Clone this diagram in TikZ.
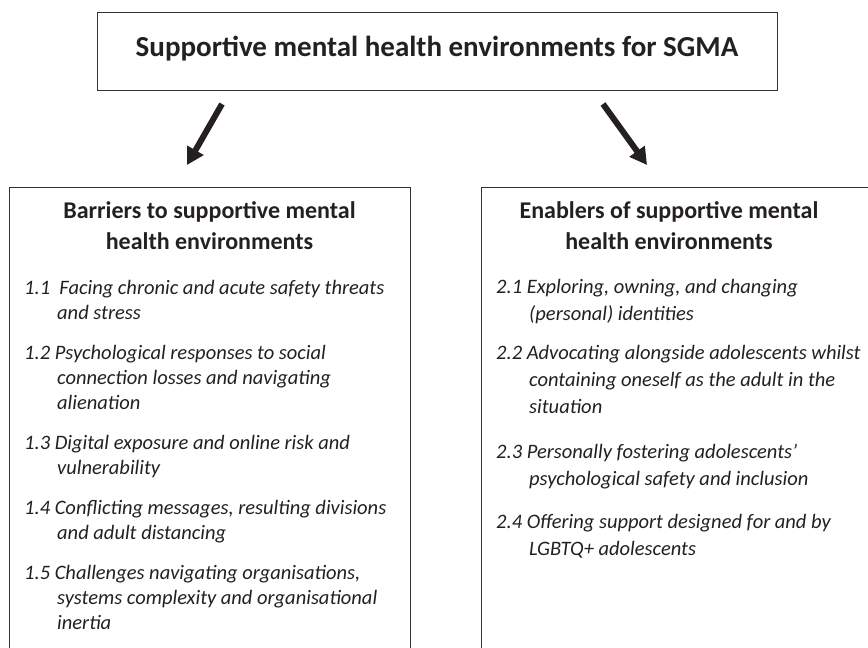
\documentclass[tikz,border=0pt]{standalone}
\usepackage{fontspec}
\setmainfont{Carlito}
\usetikzlibrary{arrows.meta}
\definecolor{ink}{rgb}{0.14,0.12,0.13}
\tikzset{
  frame/.style={draw=black!80, line width=1.2pt, inner sep=0pt, anchor=north west},
  titletext/.style={font=\fontsize{29}{34}\selectfont\bfseries, text=ink, inner sep=0pt, anchor=base},
  headtext/.style={font=\fontsize{24}{31}\selectfont\bfseries, text=ink, inner sep=0pt, anchor=north, align=center},
  lefitem/.style={font=\fontsize{20.5}{25}\selectfont\itshape, text=ink, inner sep=0pt, anchor=north west, align=left},
  rigitem/.style={font=\fontsize{20.5}{27}\selectfont\itshape, text=ink, inner sep=0pt, anchor=north west, align=left},
  bigarrow/.style={line width=6pt, -{Triangle[length=17pt,width=18pt]}, ink}
}
\begin{document}
\begin{tikzpicture}[x=1pt,y=-1pt]
\useasboundingbox (0,0) rectangle (868,648);
% boxes
\node[frame, minimum width=680pt, minimum height=78pt] (top) at (97,12) {};
\node[frame, minimum width=401pt, minimum height=480pt] (left) at (9,187) {};
\node[frame, minimum width=400pt, minimum height=480pt] (right) at (481,187) {};
% title
\node[titletext] (title) at (437,56) {Supportive mental health environments for SGMA};
% arrows
\coordinate (la0) at (222,104);
\coordinate (la1) at (187,165);
\coordinate (ra0) at (603,104);
\coordinate (ra1) at (647,165);
\draw[bigarrow] (la0) -- (la1);
\draw[bigarrow] (ra0) -- (ra1);
% headings
\node[headtext] (lh) at (209.5,197) {\strut Barriers to supportive mental\\health environments};
\node[headtext] (rh) at (669,197) {\strut Enablers of supportive mental\\health environments};
% left items
\node[lefitem] (i11) at (24,276.5) {\strut 1.1\hspace{0.45em}Facing chronic and acute safety threats\\\hspace*{33pt}and stress};
\node[lefitem] (i12) at (24,341.5) {\strut 1.2 Psychological responses to social\\\hspace*{33pt}connection losses and navigating\\\hspace*{33pt}alienation};
\node[lefitem] (i13) at (24,431.5) {\strut 1.3 Digital exposure and online risk and\\\hspace*{33pt}vulnerability};
\node[lefitem] (i14) at (24,496.5) {\strut 1.4 Conflicting messages, resulting divisions\\\hspace*{33pt}and adult distancing};
\node[lefitem] (i15) at (24,561.5) {\strut 1.5 Challenges navigating organisations,\\\hspace*{33pt}systems complexity and organisational\\\hspace*{33pt}inertia};
% right items
\node[rigitem] (i21) at (496,274.1) {\strut 2.1 Exploring, owning, and changing\\\hspace*{33pt}(personal) identities};
\node[rigitem] (i22) at (496,340.1) {\strut 2.2 Advocating alongside adolescents whilst\\\hspace*{33pt}containing oneself as the adult in the\\\hspace*{33pt}situation};
\node[rigitem] (i23) at (496,439.1) {\strut 2.3 Personally fostering adolescents’\\\hspace*{33pt}psychological safety and inclusion};
\node[rigitem] (i24) at (496,509.1) {\strut 2.4 Offering support designed for and by\\\hspace*{33pt}LGBTQ+ adolescents};
\end{tikzpicture}
\end{document}
